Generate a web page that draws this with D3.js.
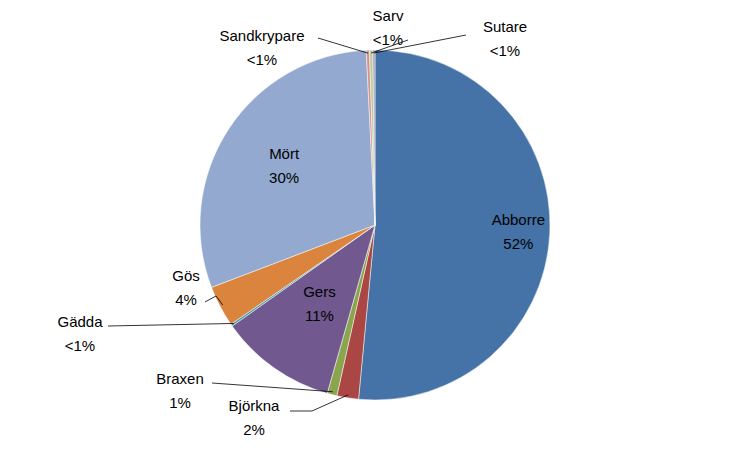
<!DOCTYPE html>
<html><head><meta charset="utf-8">
<script src="https://cdn.jsdelivr.net/npm/d3@7"></script>
<style>body{margin:0;background:#fff}text{font-family:"Liberation Sans",Arial,sans-serif;font-size:15px;fill:#000}</style>
</head><body><svg id="c" width="750" height="450"></svg>
<script>
const categories=["Abborre","Björkna","Braxen","Gers","Gädda","Gös","Mört","Sandkrypare","Sarv","Sutare"];
const values=[51.5,2.0,0.9,10.8,0.2,3.8,30.0,0.3,0.3,0.2];
const labels=["52%","2%","1%","11%","<1%","4%","30%","<1%","<1%","<1%"];
const colors=["#4572A7","#AA4643","#89A54E","#71588F","#4198AF","#DB843D","#93A9CF","#D19392","#B9CD96","#A99BBD"];
// label layout: inside (centroid radius factor) or outside (text position + leader points)
const layout=[
 {inside:true,r:0.82,dx:0,dy:0},
 {x:254,y:406,line:[[290,411],[312,411]]},
 {x:180,y:379,line:[[212,383]]},
 {inside:true,r:0.55,dx:0,dy:0},
 {x:80,y:322,line:[[108,326]]},
 {x:186,y:276,line:[[205,302],[216,296]]},
 {inside:true,r:0.62,dx:0,dy:0},
 {x:262,y:36,line:[[318,38]]},
 {x:388,y:16,line:[[375,52]],from:[408,40]},
 {x:505,y:27,line:[[466,35]]}
];
const svg=d3.select("#c"),cx=375,cy=225,R=175;
const g=svg.append("g").attr("transform",`translate(${cx},${cy})`);
const pie=d3.pie().sort(null).value(d=>d)(values);
const arc=d3.arc().innerRadius(0).outerRadius(R);
g.selectAll("path").data(pie).join("path").attr("d",arc).attr("fill",(d,i)=>colors[i]).attr("stroke","#fff").attr("stroke-width",0.5);
pie.forEach((d,i)=>{
  const L=layout[i];let x,y;
  if(L.inside){const a=d3.arc().innerRadius(R*L.r).outerRadius(R*L.r).centroid(d);x=cx+a[0];y=cy+a[1]-12;}
  else{
    x=L.x;y=L.y;
    const m=(d.startAngle+d.endAngle)/2;
    const edge=[cx+Math.sin(m)*(R-3),cy-Math.cos(m)*(R-3)];
    let pts=L.from?[L.from,...L.line]:[...L.line,edge];
    if(L.from) pts=[L.from,edge];
    svg.append("path").attr("d",d3.line()(pts)).attr("fill","none").attr("stroke","#000").attr("stroke-width",0.8);
  }
  const t=svg.append("text").attr("text-anchor","middle");
  t.append("tspan").attr("x",x).attr("y",y+5).text(categories[i]);
  t.append("tspan").attr("x",x).attr("y",y+29).text(labels[i]);
});
</script></body></html>
